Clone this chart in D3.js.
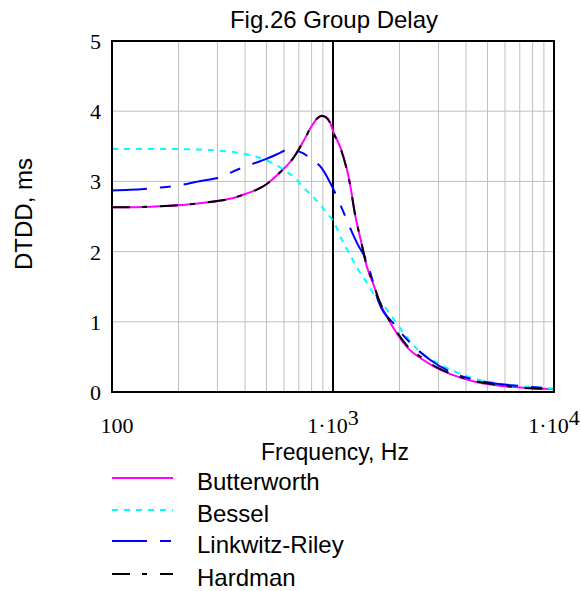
<!DOCTYPE html>
<html>
<head>
<meta charset="utf-8">
<script src="https://cdn.jsdelivr.net/npm/d3@7"></script>
<style>
  html, body { margin: 0; padding: 0; background: #ffffff; }
  svg { display: block; }
</style>
</head>
<body>
<svg id="chart" width="581" height="591"></svg>
<script>
// ---------------- DATA ----------------
const titleText = "Fig.26 Group Delay";
const xLabelText = "Frequency, Hz";
const yLabelText = "DTDD, ms";

const seriesNames = ["Butterworth", "Bessel", "Linkwitz-Riley", "Hardman"];

const bwFreq = [100,150,200,250,300,350,400,450,500,576,660,731,805,850,889,930,967,1000,1090,1150,1190,1255,1350,1416,1517,1620,1755,1950,2163,2553,2955,3494,4486,5878,7240,10000];
const bwVals = [2.63,2.64,2.66,2.69,2.72,2.76,2.82,2.88,2.96,3.13,3.33,3.56,3.80,3.90,3.94,3.92,3.85,3.72,3.45,3.20,2.99,2.55,2.10,1.81,1.55,1.29,1.07,0.83,0.64,0.46,0.34,0.24,0.14,0.085,0.06,0.04];

const bsFreq = [100,200,300,400,500,576,620,673,731,812,889,967,1000,1104,1187,1290,1416,1517,1755,2000,2425,3113,4170,6324,10000];
const bsVals = [3.46,3.46,3.44,3.39,3.30,3.20,3.13,3.05,2.92,2.78,2.64,2.50,2.44,2.15,1.97,1.76,1.57,1.41,1.17,0.92,0.60,0.38,0.21,0.10,0.05];

const lrFreq = [100,120,161,197,255,292,378,433,500,561,626,709,812,889,1000,1072,1130,1210,1290,1416,1500,1582,1908,2221,2746,3491,4977,7016,10000];
const lrVals = [2.87,2.88,2.91,2.94,3.01,3.04,3.18,3.25,3.32,3.39,3.45,3.42,3.30,3.19,2.90,2.69,2.52,2.30,2.11,1.87,1.62,1.35,0.95,0.71,0.46,0.27,0.14,0.085,0.05];

const hmFreq = [100,150,200,250,300,350,400,450,500,576,660,731,805,850,889,930,967,1000,1090,1150,1190,1255,1350,1416,1517,1620,1755,1950,2163,2553,2955,3494,4486,5878,7240,10000];
const hmVals = [2.63,2.64,2.66,2.69,2.72,2.76,2.82,2.88,2.96,3.13,3.33,3.56,3.80,3.90,3.93,3.91,3.84,3.71,3.44,3.19,2.98,2.55,2.10,1.82,1.56,1.30,1.08,0.85,0.66,0.48,0.35,0.25,0.15,0.09,0.06,0.04];

const xDomain = [100, 10000];
const yDomain = [0, 5];
const yTickValues = [0, 1, 2, 3, 4, 5];
const xTickValues = [100, 1000, 10000];
const xTickBase = ["100", "1\u00B710", "1\u00B710"];
const xTickExp = ["", "3", "4"];

// ---------------- LAYOUT ----------------
const M = { left: 112, right: 554, top: 41, bottom: 392 };
const svg = d3.select("#chart");

const x = d3.scaleLog().domain(xDomain).range([M.left, M.right]);
const y = d3.scaleLinear().domain(yDomain).range([M.bottom, M.top]);

// Grid lines
const grid = svg.append("g");
const minorX = x.ticks().filter(v => !xTickValues.includes(v));
grid.selectAll("line.vx").data(minorX).enter().append("line")
  .attr("x1", d => x(d)).attr("x2", d => x(d))
  .attr("y1", M.top).attr("y2", M.bottom)
  .attr("stroke", "#c0c0c0").attr("stroke-width", 1);
grid.selectAll("line.hy").data(yTickValues.filter(v => v > yDomain[0] && v < yDomain[1])).enter().append("line")
  .attr("x1", M.left).attr("x2", M.right)
  .attr("y1", d => y(d)).attr("y2", d => y(d))
  .attr("stroke", "#c0c0c0").attr("stroke-width", 1);

// Marker line at 1e3
svg.append("line")
  .attr("x1", x(1000)).attr("x2", x(1000))
  .attr("y1", M.top).attr("y2", M.bottom)
  .attr("stroke", "#000").attr("stroke-width", 2);

// Series
const series = [
  { name: seriesNames[0], f: bwFreq, v: bwVals, color: "#ff00ff", dash: null },
  { name: seriesNames[1], f: bsFreq, v: bsVals, color: "#00ffff", dash: "6,6" },
  { name: seriesNames[2], f: lrFreq, v: lrVals, color: "#0000ff", dash: "35,13,11,13" },
  { name: seriesNames[3], f: hmFreq, v: hmVals, color: "#000000", dash: "18,12,5,13" }
];

const line = d3.line()
  .x(d => x(d[0])).y(d => y(d[1]))
  .curve(d3.curveMonotoneX);

svg.append("defs").append("clipPath").attr("id", "clip")
  .append("rect").attr("x", M.left).attr("y", M.top)
  .attr("width", M.right - M.left).attr("height", M.bottom - M.top);

const plot = svg.append("g").attr("clip-path", "url(#clip)");
series.forEach(s => {
  plot.append("path")
    .datum(d3.zip(s.f, s.v))
    .attr("d", line)
    .attr("fill", "none")
    .attr("stroke", s.color)
    .attr("stroke-width", 2)
    .attr("stroke-dasharray", s.dash);
});

// Frame
svg.append("rect")
  .attr("x", M.left).attr("y", M.top)
  .attr("width", M.right - M.left).attr("height", M.bottom - M.top)
  .attr("fill", "none").attr("stroke", "#000").attr("stroke-width", 2);

// Y tick labels
svg.selectAll("text.yt").data(yTickValues).enter().append("text")
  .attr("x", 101).attr("y", d => y(d) + 8)
  .attr("text-anchor", "end")
  .attr("font-family", "'Liberation Serif', 'Times New Roman', serif")
  .attr("font-size", 22).attr("fill", "#000")
  .text(d => d);

// X tick labels
xTickValues.forEach((v, i) => {
  const t = svg.append("text")
    .attr("x", x(v) + (i === 0 ? 5 : 0)).attr("y", 433)
    .attr("text-anchor", "middle")
    .attr("font-family", "'Liberation Serif', 'Times New Roman', serif")
    .attr("font-size", 22).attr("fill", "#000");
  t.append("tspan").text(xTickBase[i]);
  if (xTickExp[i]) t.append("tspan").attr("dy", -8).text(xTickExp[i]);
});

// Title
svg.append("text")
  .attr("x", 334).attr("y", 28)
  .attr("text-anchor", "middle")
  .attr("font-family", "Arial, 'Liberation Sans', sans-serif")
  .attr("font-size", 24).attr("fill", "#000")
  .text(titleText);

// X label
svg.append("text")
  .attr("x", 335).attr("y", 460)
  .attr("text-anchor", "middle")
  .attr("font-family", "Arial, 'Liberation Sans', sans-serif")
  .attr("font-size", 23).attr("fill", "#000")
  .text(xLabelText);

// Y label
svg.append("text")
  .attr("transform", "translate(32,214) rotate(-90)")
  .attr("text-anchor", "middle")
  .attr("font-family", "Arial, 'Liberation Sans', sans-serif")
  .attr("font-size", 24).attr("fill", "#000")
  .text(yLabelText);

// Legend
const legBase = [490, 522, 553, 586];
series.forEach((s, i) => {
  svg.append("line")
    .attr("x1", 112).attr("x2", 173)
    .attr("y1", legBase[i] - 12).attr("y2", legBase[i] - 12)
    .attr("stroke", s.color).attr("stroke-width", 2)
    .attr("stroke-dasharray", s.dash);
  svg.append("text")
    .attr("x", 197).attr("y", legBase[i])
    .attr("font-family", "Arial, 'Liberation Sans', sans-serif")
    .attr("font-size", 24).attr("fill", "#000")
    .text(s.name);
});
</script>
</body>
</html>
